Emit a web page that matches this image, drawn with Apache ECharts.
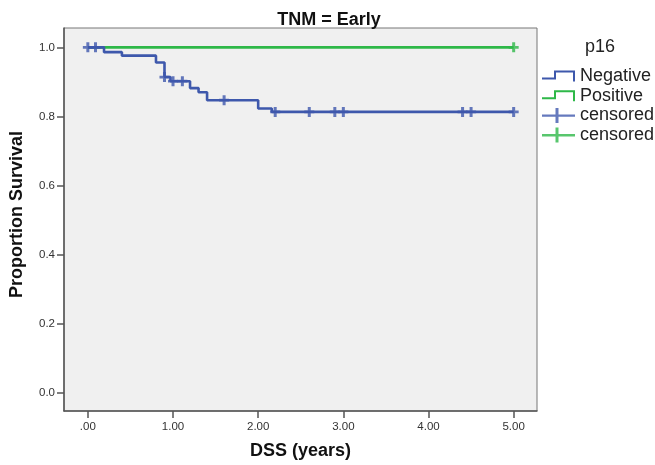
<!DOCTYPE html>
<html>
<head>
<meta charset="utf-8">
<script src="https://cdn.jsdelivr.net/npm/echarts@6/dist/echarts.min.js"></script>
<style>
html,body{margin:0;padding:0;background:#fff;}
#chart{width:655px;height:465px;}
</style>
</head>
<body>
<div id="chart"></div>
<script>
// ---- data ----
const negTimes = [0, 0.19, 0.40, 0.80, 0.90, 0.97, 1.20, 1.30, 1.40, 2.00, 2.16, 5.00];
const negSurv  = [1.0, 0.986, 0.976, 0.956, 0.914, 0.902, 0.882, 0.870, 0.847, 0.823, 0.813, 0.813];
const negCensorTimes = [0, 0.09, 0.90, 1.00, 1.11, 1.60, 2.20, 2.60, 2.90, 3.00, 4.40, 4.50, 5.00];
const negCensorSurv  = [1.0, 1.0, 0.914, 0.902, 0.902, 0.847, 0.813, 0.813, 0.813, 0.813, 0.813, 0.813, 0.813];
const posTimes = [0, 5.00];
const posSurv  = [1.0, 1.0];
const posCensorTimes = [5.00];
const posCensorSurv  = [1.0];
const xTickValues = [0, 1, 2, 3, 4, 5];
const xTickLabels = ['.00', '1.00', '2.00', '3.00', '4.00', '5.00'];
const yTickValues = [0, 0.2, 0.4, 0.6, 0.8, 1.0];
const yTickLabels = ['0.0', '0.2', '0.4', '0.6', '0.8', '1.0'];
const groupNames = ['Negative', 'Positive'];
const legendTitle = 'p16';
const chartTitle = 'TNM = Early';

// ---- build ----
const zip = (a, b) => a.map((v, i) => [v, b[i]]);
const BLUE = '#3e58ac';
const GREEN = '#2eb848';
const stepIcon = 'path://M0,7L12,7L12,0L33,0L33,11L31,11L31,2L14,2L14,9L0,9Z';
const crossIcon = 'path://M0,6.5L13.5,6.5L13.5,0L16.5,0L16.5,6.5L33,6.5L33,8.8L16.5,8.8L16.5,15L13.5,15L13.5,8.8L0,8.8Z';
const plusSym = 'path://M0,3.6H3.5V0H6.5V3.6H10V6.4H6.5V10H3.5V6.4H0Z';
const FONT = '"Liberation Sans", Arial, sans-serif';

const chart = echarts.init(document.getElementById('chart'), null, {renderer: 'canvas'});
chart.setOption({
  animation: false,
  backgroundColor: '#ffffff',
  textStyle: {fontFamily: FONT},
  title: [
    {text: chartTitle, left: 324, top: 6, textAlign: 'center',
     textStyle: {fontFamily: FONT, fontSize: 18, fontWeight: 'bold', color: '#111'}},
    {text: legendTitle, left: 580, top: 33,
     textStyle: {fontFamily: FONT, fontSize: 18, fontWeight: 'normal', color: '#222'}}
  ],
  grid: {left: 61, right: 118, top: 28, bottom: 51, show: true,
         backgroundColor: '#f0f0f0', borderColor: '#777', borderWidth: 1},
  legend: {
    orient: 'vertical', left: 537, top: 62,
    itemWidth: 33, itemHeight: 15, itemGap: 1.7,
    selectedMode: false,
    itemStyle: {borderWidth: 0},
    textStyle: {fontFamily: FONT, fontSize: 18, color: '#222', lineHeight: 18},
    data: [
      {name: groupNames[0], icon: stepIcon},
      {name: groupNames[1], icon: stepIcon},
      {name: 'censored', icon: crossIcon},
      {name: 'censored ', icon: crossIcon}
    ]
  },
  xAxis: {
    type: 'value', min: -0.28, max: 5.274,
    name: 'DSS (years)', nameLocation: 'middle', nameGap: 31,
    nameTextStyle: {fontFamily: FONT, fontSize: 18, fontWeight: 'bold', color: '#111'},
    axisLine: {show: true, onZero: false, lineStyle: {color: '#555', width: 1.5}},
    axisTick: {show: true, length: 7, customValues: xTickValues, lineStyle: {color: '#555', width: 1.5}},
    axisLabel: {customValues: xTickValues, margin: 10, fontSize: 11.5, color: '#333', fontFamily: FONT,
      formatter: v => xTickLabels[xTickValues.indexOf(v)] ?? ''},
    splitLine: {show: false}
  },
  yAxis: {
    type: 'value', min: -0.053, max: 1.056,
    name: 'Proportion Survival', nameLocation: 'middle', nameGap: 38, nameRotate: 90,
    nameTextStyle: {fontFamily: FONT, fontSize: 18, fontWeight: 'bold', color: '#111', padding: [0, 0, 0, 10]},
    axisLine: {show: true, onZero: false, lineStyle: {color: '#555', width: 1.5}},
    axisTick: {show: true, length: 7, customValues: yTickValues, lineStyle: {color: '#555', width: 1.5}},
    axisLabel: {customValues: yTickValues, margin: 9, fontSize: 11.5, color: '#333', fontFamily: FONT,
      formatter: v => yTickLabels[yTickValues.findIndex(t => Math.abs(t - v) < 1e-6)] ?? ''},
    splitLine: {show: false}
  },
  series: [
    {name: groupNames[0], type: 'line', step: 'end', data: zip(negTimes, negSurv),
     showSymbol: false, symbol: 'none', z: 4, color: BLUE,
     lineStyle: {color: BLUE, width: 2.6}},
    {name: groupNames[1], type: 'line', step: 'end', data: zip(posTimes, posSurv),
     showSymbol: false, symbol: 'none', z: 3, color: GREEN,
     lineStyle: {color: GREEN, width: 2.6}},
    {name: 'censored', type: 'scatter', data: zip(negCensorTimes, negCensorSurv),
     symbol: plusSym, symbolSize: 10, z: 5, color: BLUE, itemStyle: {color: BLUE}},
    {name: 'censored ', type: 'scatter', data: zip(posCensorTimes, posCensorSurv),
     symbol: plusSym, symbolSize: 10, z: 5, color: GREEN, itemStyle: {color: GREEN}}
  ]
});
</script>
</body>
</html>
